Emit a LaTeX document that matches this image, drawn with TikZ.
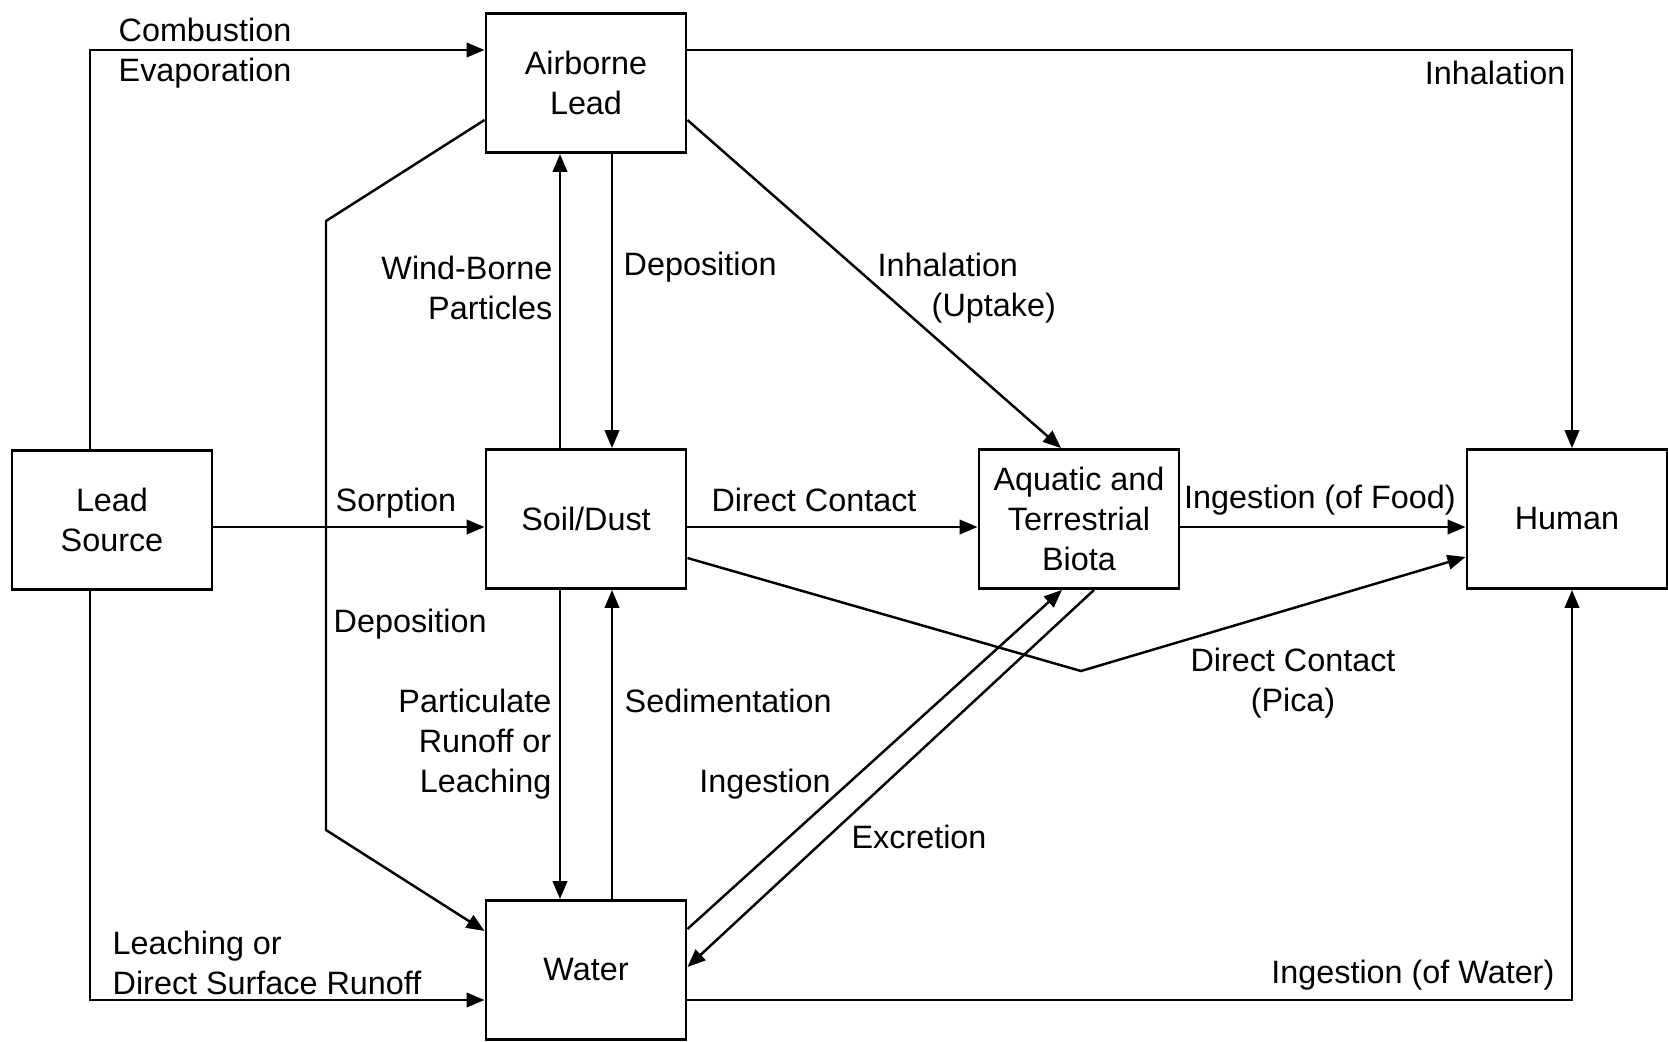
\documentclass[tikz,border=0pt]{standalone}
\usepackage{fontspec}
\setmainfont{Liberation Sans}
\usetikzlibrary{arrows.meta}
\begin{document}
\begin{tikzpicture}[x=0.01cm,y=-0.01cm,
  every node/.style={font=\fontsize{9.2pt}{11.4pt}\selectfont},
  box/.style={draw, line width=0.8pt, minimum width=2cm, minimum height=1.39cm, align=center, inner sep=0pt},
  lab/.style={inner sep=0pt},
  flow/.style={line width=0.7pt, -{Triangle[length=1.8mm,width=1.45mm]}}]
\useasboundingbox (0,0) rectangle (1668,1041);
% boxes
\node[box] (A) at (586,83) {Airborne\\Lead};
\node[box] (L) at (112,520) {Lead\\Source};
\node[box] (S) at (586,519) {Soil/Dust};
\node[box] (B) at (1079,519) {Aquatic and\\Terrestrial\\Biota};
\node[box] (H) at (1567,519) {Human};
\node[box] (W) at (586,970) {Water};
% bend points
\coordinate (c1) at (90,50);
\coordinate (c2) at (1572,50);
\coordinate (c3) at (326,221);
\coordinate (c4) at (326,830);
\coordinate (c5) at (1081,671);
\coordinate (c6) at (90,1000);
\coordinate (c7) at (1572,1000);
% connectors
\draw[flow] (90,0 |- L.north) -- (c1) -- (A.west |- c1);
\draw[flow] (A.east |- c2) -- (c2) -- (c2 |- H.north);
\draw[flow] (A.east |- 0,120) -- (1061,0 |- B.north);
\draw[flow] (560,0 |- S.north) -- (560,0 |- A.south);
\draw[flow] (612,0 |- A.south) -- (612,0 |- S.north);
\draw[flow] (L.east |- 0,527) -- (S.west |- 0,527);
\draw[flow] (A.west |- 0,120) -- (c3) -- (c4) -- (W.west |- 0,931);
\draw[flow] (560,0 |- S.south) -- (560,0 |- W.north);
\draw[flow] (612,0 |- W.north) -- (612,0 |- S.south);
\draw[flow] (S.east |- 0,527) -- (B.west |- 0,527);
\draw[flow] (B.east |- 0,527) -- (H.west |- 0,527);
\draw[flow] (S.east |- 0,558) -- (c5) -- (H.west |- 0,557);
\draw[flow] (W.east |- 0,929) -- (1062,0 |- B.south);
\draw[flow] (1094,0 |- B.south) -- (W.east |- 0,967);
\draw[flow] (90,0 |- L.south) -- (c6) -- (W.west |- c6);
\draw[flow] (W.east |- c7) -- (c7) -- (c7 |- H.south);
% labels
\node[lab, align=left, anchor=west] (t1) at (118,53) {Combustion\\Evaporation};
\node[lab, anchor=east] (t2) at (1566,73) {Inhalation};
\node[lab, align=left, anchor=west] (t3) at (877,288) {Inhalation\\\hspace*{0.54cm}(Uptake)};
\node[lab, align=right, anchor=east] (t4) at (553,288) {Wind-Borne\\Particles};
\node[lab, anchor=west] (t5) at (623,267) {Deposition};
\node[lab, anchor=west] (t6) at (335,503) {Sorption};
\node[lab] (t7) at (814,500) {Direct Contact};
\node[lab] (t8) at (1320,500) {Ingestion (of Food)};
\node[lab, anchor=west] (t9) at (333,624) {Deposition};
\node[lab, align=right, anchor=east] (t10) at (552,744) {Particulate\\Runoff or\\Leaching};
\node[lab, anchor=west] (t11) at (624,701) {Sedimentation};
\node[lab, align=center] (t12) at (1293,683) {Direct Contact\\(Pica)};
\node[lab] (t13) at (765,784) {Ingestion};
\node[lab] (t14) at (919,837) {Excretion};
\node[lab, align=left, anchor=west] (t15) at (112,963) {Leaching or\\Direct Surface Runoff};
\node[lab, anchor=east] (t16) at (1555,975) {Ingestion (of Water)};
\end{tikzpicture}
\end{document}
